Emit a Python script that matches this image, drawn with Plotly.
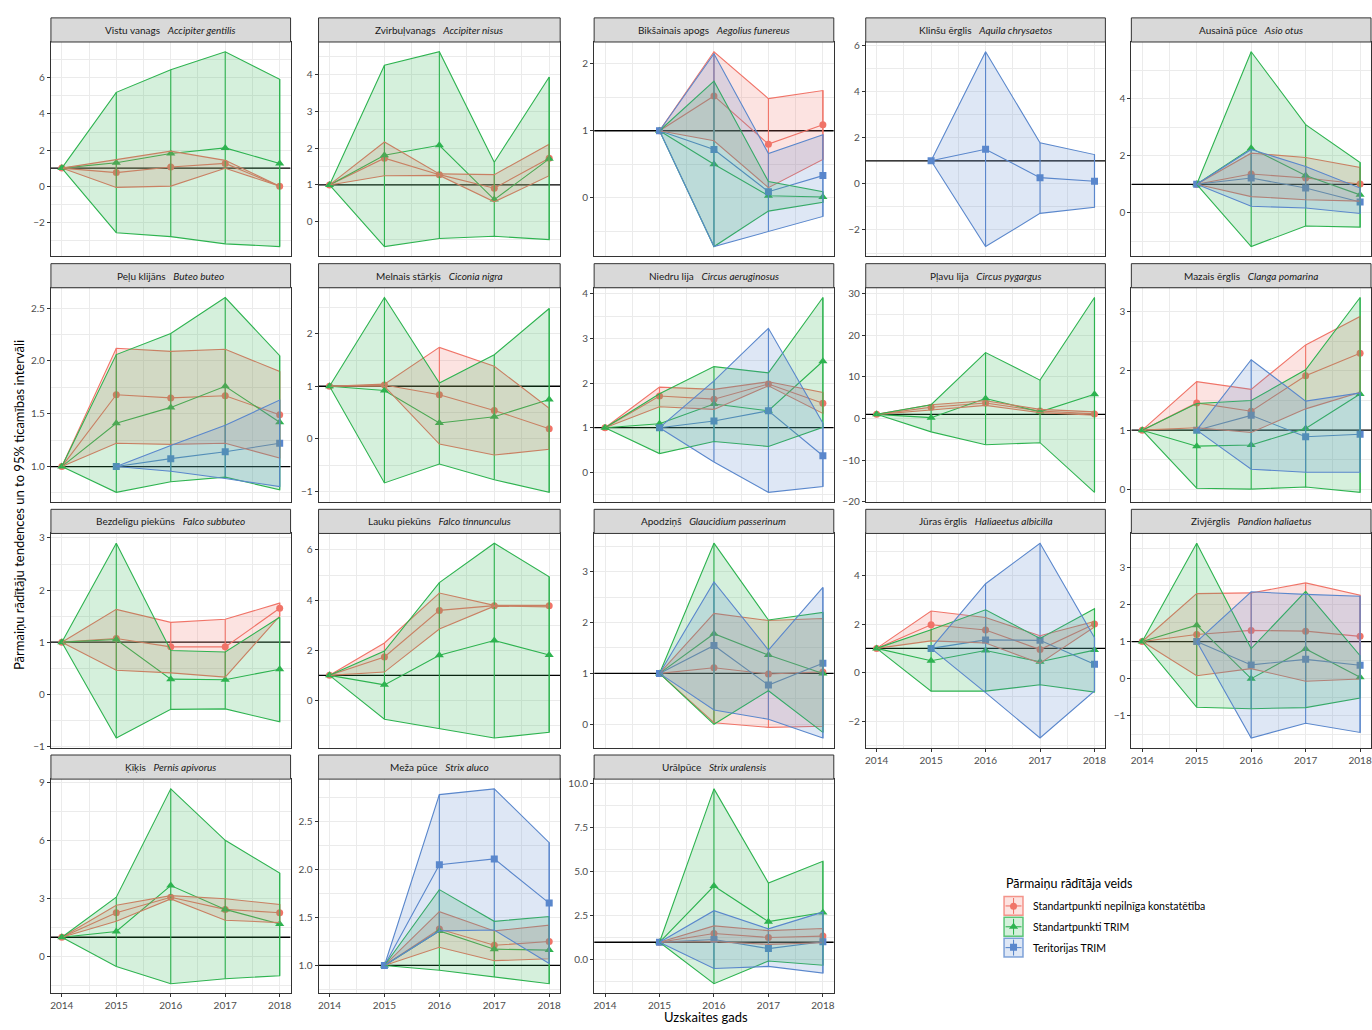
import plotly.graph_objects as go

# ---------------------------------------------------------------------------
# Data: change indices (2014 or 2015 = 1) with 95% confidence limits
# ---------------------------------------------------------------------------
YEARS = [2014, 2015, 2016, 2017, 2018]

SPECIES = [
    "Accipiter gentilis", "Accipiter nisus", "Aegolius funereus", "Aquila chrysaetos",
    "Asio otus", "Buteo buteo", "Ciconia nigra", "Circus aeruginosus", "Circus pygargus",
    "Clanga pomarina", "Falco subbuteo", "Falco tinnunculus", "Glaucidium passerinum",
    "Haliaeetus albicilla", "Pandion haliaetus", "Pernis apivorus", "Strix aluco",
    "Strix uralensis",
]
COMMON_NAMES = [
    "Vistu vanags", "Zvirbuļvanags", "Bikšainais apogs", "Klinšu ērglis", "Ausainā pūce",
    "Peļu klijāns", "Melnais stārķis", "Niedru lija", "Pļavu lija", "Mazais ērglis",
    "Bezdelīgu piekūns", "Lauku piekūns", "Apodziņš", "Jūras ērglis", "Zivjērglis",
    "Ķīķis", "Meža pūce", "Urālpūce",
]

SERIES_NAMES = [
    "Standartpunkti nepilnīga konstatētība",
    "Standartpunkti TRIM",
    "Teritorijas TRIM",
]

# Standartpunkti nepilnīga konstatētība
NK_EST = {
    "Accipiter gentilis": [1, 0.75, 1.06, 1.26, 0.0],
    "Accipiter nisus": [1, 1.73, 1.28, 0.91, 1.73],
    "Aegolius funereus": [None, 1, 1.52, 0.80, 1.09],
    "Asio otus": [None, 1, 1.36, 1.22, 1.01],
    "Buteo buteo": [1, 1.68, 1.65, 1.67, 1.49],
    "Ciconia nigra": [1, 1.025, 0.84, 0.54, 0.19],
    "Circus aeruginosus": [1, 1.71, 1.64, 1.98, 1.55],
    "Circus pygargus": [1, 2.7, 3.7, 1.8, 1.1],
    "Clanga pomarina": [1, 1.46, 1.32, 1.92, 2.30],
    "Falco subbuteo": [1, 1.07, 0.91, 0.91, 1.65],
    "Falco tinnunculus": [1, 1.73, 3.59, 3.78, 3.78],
    "Glaucidium passerinum": [None, 1, 1.11, 0.99, 1.03],
    "Haliaeetus albicilla": [1, 1.97, 1.76, 0.95, 2.0],
    "Pandion haliaetus": [1, 1.19, 1.30, 1.28, 1.14],
    "Pernis apivorus": [1, 2.27, 3.07, 2.44, 2.27],
    "Strix aluco": [None, 1, 1.38, 1.21, 1.25],
    "Strix uralensis": [None, 1, 1.50, 1.27, 1.35],
}
NK_LO = {
    "Accipiter gentilis": [1, -0.07, 0.0, 0.99, 0.0],
    "Accipiter nisus": [1, 1.25, 1.26, 0.54, 1.25],
    "Aegolius funereus": [None, 1, 0.85, 0.15, 0.57],
    "Asio otus": [None, 1, 0.57, 0.46, 0.41],
    "Buteo buteo": [1, 1.22, 1.21, 1.22, 1.08],
    "Ciconia nigra": [1, 1.0, -0.10, -0.31, -0.20],
    "Circus aeruginosus": [1, 1.47, 1.41, 1.94, 1.32],
    "Circus pygargus": [1, 2.05, 3.15, 1.4, 0.8],
    "Clanga pomarina": [1, 1.04, 0.96, 1.36, 1.64],
    "Falco subbuteo": [1, 0.46, 0.41, 0.33, 1.50],
    "Falco tinnunculus": [1, 1.13, 2.85, 3.76, 3.73],
    "Glaucidium passerinum": [None, 1, 0.03, -0.06, -0.04],
    "Haliaeetus albicilla": [1, 1.31, 1.22, 0.39, 1.88],
    "Pandion haliaetus": [1, 0.08, 0.27, -0.07, -0.01],
    "Pernis apivorus": [1, 1.83, 2.98, 1.88, 1.76],
    "Strix aluco": [None, 1, 1.19, 1.05, 1.07],
    "Strix uralensis": [None, 1, 1.03, 0.88, 0.97],
}
NK_HI = {
    "Accipiter gentilis": [1, 1.48, 1.94, 1.43, 0.0],
    "Accipiter nisus": [1, 2.17, 1.30, 1.28, 2.11],
    "Aegolius funereus": [None, 1, 2.18, 1.48, 1.60],
    "Asio otus": [None, 1, 2.09, 1.94, 1.59],
    "Buteo buteo": [1, 2.12, 2.09, 2.11, 1.90],
    "Ciconia nigra": [1, 1.04, 1.74, 1.38, 0.58],
    "Circus aeruginosus": [1, 1.91, 1.86, 2.03, 1.79],
    "Circus pygargus": [1, 3.3, 4.25, 2.2, 1.6],
    "Clanga pomarina": [1, 1.82, 1.69, 2.44, 2.92],
    "Falco subbuteo": [1, 1.63, 1.38, 1.44, 1.75],
    "Falco tinnunculus": [1, 2.29, 4.28, 3.79, 3.79],
    "Glaucidium passerinum": [None, 1, 2.18, 2.04, 2.08],
    "Haliaeetus albicilla": [1, 2.54, 2.27, 1.52, 2.11],
    "Pandion haliaetus": [1, 2.29, 2.31, 2.58, 2.25],
    "Pernis apivorus": [1, 2.66, 3.15, 2.99, 2.70],
    "Strix aluco": [None, 1, 1.56, 1.36, 1.42],
    "Strix uralensis": [None, 1, 1.93, 1.66, 1.78],
}

# Standartpunkti TRIM
ST_EST = {
    "Accipiter gentilis": [1, 1.30, 1.81, 2.12, 1.25],
    "Accipiter nisus": [1, 1.81, 2.08, 0.60, 1.71],
    "Aegolius funereus": [None, 1, 0.50, 0.03, 0.01],
    "Asio otus": [None, 1, 2.26, 1.31, 0.63],
    "Buteo buteo": [1, 1.41, 1.56, 1.76, 1.42],
    "Ciconia nigra": [1, 0.92, 0.30, 0.42, 0.75],
    "Circus aeruginosus": [1, 1.09, 1.53, 1.38, 2.49],
    "Circus pygargus": [1, 0.2, 4.8, 1.6, 5.8],
    "Clanga pomarina": [1, 0.73, 0.75, 1.03, 1.61],
    "Falco subbuteo": [1, 1.05, 0.29, 0.28, 0.48],
    "Falco tinnunculus": [1, 0.62, 1.80, 2.39, 1.81],
    "Glaucidium passerinum": [None, 1, 1.78, 1.36, 1.0],
    "Haliaeetus albicilla": [1, 0.49, 0.91, 0.45, 0.93],
    "Pandion haliaetus": [1, 1.44, 0.0, 0.80, 0.04],
    "Pernis apivorus": [1, 1.30, 3.67, 2.44, 1.69],
    "Strix aluco": [None, 1, 1.36, 1.17, 1.16],
    "Strix uralensis": [None, 1, 4.19, 2.17, 2.69],
}
ST_LO = {
    "Accipiter gentilis": [1, -2.58, -2.80, -3.20, -3.35],
    "Accipiter nisus": [1, -0.68, -0.46, -0.40, -0.49],
    "Aegolius funereus": [None, 1, -0.73, -0.20, -0.07],
    "Asio otus": [None, 1, -1.18, -0.46, -0.50],
    "Buteo buteo": [1, 0.756, 0.856, 0.90, 0.78],
    "Ciconia nigra": [1, -0.84, -0.48, -0.78, -1.02],
    "Circus aeruginosus": [1, 0.42, 0.69, 0.58, 1.01],
    "Circus pygargus": [1, -3.2, -6.3, -5.8, -17.7],
    "Clanga pomarina": [1, 0.02, 0.005, 0.04, -0.05],
    "Falco subbuteo": [1, -0.84, -0.29, -0.28, -0.53],
    "Falco tinnunculus": [1, -0.75, -1.13, -1.50, -1.27],
    "Glaucidium passerinum": [None, 1, 0.0, 0.66, -0.16],
    "Haliaeetus albicilla": [1, -0.76, -0.76, -0.50, -0.80],
    "Pandion haliaetus": [1, -0.77, -0.81, -0.78, -0.52],
    "Pernis apivorus": [1, -0.51, -1.40, -1.14, -0.99],
    "Strix aluco": [None, 1, 0.95, 0.88, 0.81],
    "Strix uralensis": [None, 1, -1.35, -0.06, -0.30],
}
ST_HI = {
    "Accipiter gentilis": [1, 5.20, 6.45, 7.45, 5.92],
    "Accipiter nisus": [1, 4.26, 4.63, 1.62, 3.94],
    "Aegolius funereus": [None, 1, 1.74, 0.24, 0.09],
    "Asio otus": [None, 1, 5.64, 3.09, 1.76],
    "Buteo buteo": [1, 2.06, 2.26, 2.60, 2.05],
    "Ciconia nigra": [1, 2.69, 1.06, 1.60, 2.48],
    "Circus aeruginosus": [1, 1.76, 2.37, 2.23, 3.92],
    "Circus pygargus": [1, 3.3, 15.8, 9.2, 29.0],
    "Clanga pomarina": [1, 1.45, 1.50, 2.02, 3.24],
    "Falco subbuteo": [1, 2.90, 0.84, 0.81, 1.48],
    "Falco tinnunculus": [1, 1.97, 4.70, 6.27, 4.93],
    "Glaucidium passerinum": [None, 1, 3.56, 2.05, 2.20],
    "Haliaeetus albicilla": [1, 1.77, 2.59, 1.41, 2.63],
    "Pandion haliaetus": [1, 3.65, 0.81, 2.35, 0.62],
    "Pernis apivorus": [1, 3.07, 8.67, 6.01, 4.32],
    "Strix aluco": [None, 1, 1.79, 1.46, 1.51],
    "Strix uralensis": [None, 1, 9.70, 4.36, 5.59],
}

# Teritorijas TRIM
TT_EST = {
    "Aegolius funereus": [None, 1, 0.72, 0.09, 0.33],
    "Aquila chrysaetos": [None, 1, 1.50, 0.27, 0.11],
    "Asio otus": [None, 1, 1.22, 0.87, 0.38],
    "Buteo buteo": [None, 1, 1.075, 1.14, 1.22],
    "Circus aeruginosus": [None, 1, 1.15, 1.38, 0.37],
    "Clanga pomarina": [None, 1, 1.25, 0.89, 0.93],
    "Glaucidium passerinum": [None, 1, 1.55, 0.77, 1.20],
    "Haliaeetus albicilla": [None, 1, 1.35, 1.33, 0.35],
    "Pandion haliaetus": [None, 1, 0.37, 0.52, 0.36],
    "Strix aluco": [None, 1, 2.05, 2.11, 1.65],
    "Strix uralensis": [None, 1, 1.16, 0.64, 1.03],
}
TT_LO = {
    "Aegolius funereus": [None, 1, -0.73, -0.51, -0.28],
    "Aquila chrysaetos": [None, 1, -2.72, -1.28, -1.02],
    "Asio otus": [None, 1, 0.23, 0.17, -0.02],
    "Buteo buteo": [None, 1, 0.956, 0.887, 0.81],
    "Circus aeruginosus": [None, 1, 0.23, -0.45, -0.32],
    "Clanga pomarina": [None, 1, 0.34, 0.29, 0.29],
    "Glaucidium passerinum": [None, 1, 0.28, 0.10, -0.27],
    "Haliaeetus albicilla": [None, 1, -0.82, -2.69, -0.75],
    "Pandion haliaetus": [None, 1, -1.60, -1.20, -1.45],
    "Strix aluco": [None, 1, 1.36, 1.37, 1.02],
    "Strix uralensis": [None, 1, -0.49, -0.37, -0.75],
}
TT_HI = {
    "Aegolius funereus": [None, 1, 2.15, 0.66, 0.94],
    "Aquila chrysaetos": [None, 1, 5.73, 1.78, 1.27],
    "Asio otus": [None, 1, 2.22, 1.62, 0.87],
    "Buteo buteo": [None, 1, 1.20, 1.39, 1.63],
    "Circus aeruginosus": [None, 1, 2.05, 3.23, 1.10],
    "Clanga pomarina": [None, 1, 2.19, 1.49, 1.63],
    "Glaucidium passerinum": [None, 1, 2.80, 1.46, 2.69],
    "Haliaeetus albicilla": [None, 1, 3.66, 5.33, 1.44],
    "Pandion haliaetus": [None, 1, 2.34, 2.27, 2.22],
    "Strix aluco": [None, 1, 2.78, 2.84, 2.28],
    "Strix uralensis": [None, 1, 2.79, 1.76, 2.71],
}

# y-axis breaks of each facet
Y_TICKS = {
    "Accipiter gentilis": [-2, 0, 2, 4, 6],
    "Accipiter nisus": [0, 1, 2, 3, 4],
    "Aegolius funereus": [0, 1, 2],
    "Aquila chrysaetos": [-2, 0, 2, 4, 6],
    "Asio otus": [0, 2, 4],
    "Buteo buteo": [1.0, 1.5, 2.0, 2.5],
    "Ciconia nigra": [-1, 0, 1, 2],
    "Circus aeruginosus": [0, 1, 2, 3, 4],
    "Circus pygargus": [-20, -10, 0, 10, 20, 30],
    "Clanga pomarina": [0, 1, 2, 3],
    "Falco subbuteo": [-1, 0, 1, 2, 3],
    "Falco tinnunculus": [0, 2, 4, 6],
    "Glaucidium passerinum": [0, 1, 2, 3],
    "Haliaeetus albicilla": [-2, 0, 2, 4],
    "Pandion haliaetus": [-1, 0, 1, 2, 3],
    "Pernis apivorus": [0, 3, 6, 9],
    "Strix aluco": [1.0, 1.5, 2.0, 2.5],
    "Strix uralensis": [0.0, 2.5, 5.0, 7.5, 10.0],
}

REFERENCE_LEVEL = 1.0

SERIES = [
    (SERIES_NAMES[0], NK_EST, NK_LO, NK_HI, "#F07468", "circle", 7),
    (SERIES_NAMES[1], ST_EST, ST_LO, ST_HI, "#2EB350", "triangle-up", 8),
    (SERIES_NAMES[2], TT_EST, TT_LO, TT_HI, "#5A87CC", "square", 7),
]

# ---------------------------------------------------------------------------
# Page geometry (pixels)
# ---------------------------------------------------------------------------
W, H = 1372, 1030
COLS_X = [(50, 290), (318, 560), (594, 834), (866, 1106), (1132, 1372)]
ROW_TOP = [15, 262.7, 510.3, 757.9]
STRIP_H = 24.3
PANEL_H = 216.0
NCOL = 5

FONT = "Lato, 'Open Sans', sans-serif"
GRID = "#EBEBEB"
DARK = "#333333"


def rgba(hex_col, a):
    h = hex_col.lstrip("#")
    r, g, b = int(h[0:2], 16), int(h[2:4], 16), int(h[4:6], 16)
    return f"rgba({r},{g},{b},{a})"


def fmt_tick(v, decimals):
    s = f"{v:.1f}" if decimals else f"{int(round(v))}"
    return s.replace("-", "\u2212")


def minor_between(major, lo, hi):
    step = major[1] - major[0]
    out, v = [], major[0] - step / 2
    while v <= hi:
        if v >= lo:
            out.append(v)
        v += step
    return out


fig = go.Figure()
layout = {}
shapes = []
annotations = []

x_pad = 0.05 * (YEARS[-1] - YEARS[0])
x_range = [YEARS[0] - x_pad, YEARS[-1] + x_pad]
x_minor = [y + 0.5 for y in YEARS[:-1]]

# facets that carry x tick labels (last facet of each column)
n = len(SPECIES)
bottom_of_col = {}
for i in range(n):
    bottom_of_col[i % NCOL] = i
bottom_panels = set(bottom_of_col.values())

for i, sp in enumerate(SPECIES):
    r, c = divmod(i, NCOL)
    x0, x1 = COLS_X[c]
    top = ROW_TOP[r] + STRIP_H
    bot = top + PANEL_H
    sfx = "" if i == 0 else str(i + 1)
    xa, ya = "x" + sfx, "y" + sfx

    # y range: data extent (incl. reference line) with 5 % expansion
    vals = [REFERENCE_LEVEL]
    for _, est, lo, hi, *_ in SERIES:
        if sp in est:
            for arr in (est[sp], lo[sp], hi[sp]):
                vals += [v for v in arr if v is not None]
    ymin, ymax = min(vals), max(vals)
    pad = 0.05 * (ymax - ymin)
    y_range = [ymin - pad, ymax + pad]

    ticks = Y_TICKS[sp]
    decimals = any(abs(t - round(t)) > 1e-9 for t in ticks)
    is_bottom = i in bottom_panels

    layout["xaxis" + sfx] = dict(
        domain=[x0 / W, x1 / W], anchor=ya, range=x_range,
        tickvals=YEARS, ticktext=[str(y) for y in YEARS],
        showticklabels=is_bottom, ticks="outside" if is_bottom else "",
        ticklabeloverflow="allow",
        ticklen=3, tickcolor=DARK, tickwidth=1,
        tickfont=dict(family=FONT, size=10, color="#4D4D4D"),
        showgrid=True, gridcolor=GRID, gridwidth=1.1,
        minor=dict(tickvals=x_minor, showgrid=True, gridcolor=GRID, gridwidth=0.7),
        showline=True, mirror=True, linecolor=DARK, linewidth=1,
        zeroline=False, fixedrange=True,
    )
    layout["yaxis" + sfx] = dict(
        domain=[1 - bot / H, 1 - top / H], anchor=xa, range=y_range,
        tickvals=ticks, ticktext=[fmt_tick(t, decimals) for t in ticks],
        ticks="outside", ticklen=3, tickcolor=DARK, tickwidth=1,
        tickfont=dict(family=FONT, size=10, color="#4D4D4D"),
        showgrid=True, gridcolor=GRID, gridwidth=1.1,
        minor=dict(tickvals=minor_between(ticks, y_range[0], y_range[1]),
                   showgrid=True, gridcolor=GRID, gridwidth=0.7),
        showline=True, mirror=True, linecolor=DARK, linewidth=1,
        zeroline=False, fixedrange=True,
    )

    # reference line at 1 across the whole panel
    fig.add_trace(go.Scatter(
        x=x_range, y=[REFERENCE_LEVEL, REFERENCE_LEVEL], xaxis=xa, yaxis=ya, mode="lines",
        line=dict(color="black", width=1.3), showlegend=False, hoverinfo="skip",
    ))

    # strip
    shapes.append(dict(type="rect", xref="paper", yref="paper",
                       x0=x0 / W, x1=x1 / W, y0=1 - top / H, y1=1 - ROW_TOP[r] / H,
                       fillcolor="#D9D9D9", line=dict(color=DARK, width=1), layer="above"))
    annotations.append(dict(
        xref="paper", yref="paper", x=(x0 + x1) / 2 / W, y=1 - (ROW_TOP[r] + STRIP_H / 2) / H,
        text=f"{COMMON_NAMES[i]}\u00a0\u00a0\u00a0<i>{sp}</i>", showarrow=False,
        xanchor="center", yanchor="middle",
        font=dict(family=FONT, size=10, color="#1A1A1A"),
    ))

    # estimates with error bars
    for name, est, lo, hi, col, sym, msize in SERIES:
        if sp not in est:
            continue
        idx = [k for k, v in enumerate(est[sp]) if v is not None]
        xs = [YEARS[k] for k in idx]
        e = [est[sp][k] for k in idx]
        l = [lo[sp][k] for k in idx]
        h = [hi[sp][k] for k in idx]
        fig.add_trace(go.Scatter(
            x=xs, y=e, xaxis=xa, yaxis=ya, mode="lines+markers", name=name,
            line=dict(color=col, width=1.1),
            marker=dict(symbol=sym, size=msize, color=col, line=dict(width=0)),
            error_y=dict(type="data", symmetric=False,
                         array=[hv - ev for hv, ev in zip(h, e)],
                         arrayminus=[ev - lv for ev, lv in zip(e, l)],
                         width=0, thickness=1.1, color=col),
            showlegend=False, hoverinfo="skip",
        ))

    # confidence ribbons
    for name, est, lo, hi, col, sym, msize in SERIES:
        if sp not in est:
            continue
        idx = [k for k, v in enumerate(est[sp]) if v is not None]
        xs = [YEARS[k] for k in idx]
        l = [lo[sp][k] for k in idx]
        h = [hi[sp][k] for k in idx]
        fig.add_trace(go.Scatter(
            x=xs + xs[::-1], y=h + l[::-1], xaxis=xa, yaxis=ya, mode="lines",
            fill="toself", fillcolor=rgba(col, 0.2),
            line=dict(color=col, width=1.1), name=name,
            showlegend=False, hoverinfo="skip",
        ))

# ---------------------------------------------------------------------------
# Axis titles
# ---------------------------------------------------------------------------
annotations.append(dict(
    xref="paper", yref="paper", x=18 / W, y=1 - 506 / H,
    text="Pārmaiņu rādītāju tendences un to 95% ticamības intervāli",
    textangle=-90, showarrow=False, xanchor="center", yanchor="middle",
    font=dict(family=FONT, size=13, color="black"),
))
annotations.append(dict(
    xref="paper", yref="paper", x=706 / W, y=1 - 1022 / H,
    text="Uzskaites gads", showarrow=False, xanchor="center", yanchor="middle",
    font=dict(family=FONT, size=13, color="black"),
))

# ---------------------------------------------------------------------------
# Legend (keys: ribbon box + error bar + line + point)
# ---------------------------------------------------------------------------
LEG_X0, LEG_Y0, KEY = 1004, 900, 20
annotations.append(dict(
    xref="paper", yref="paper", x=LEG_X0 / W, y=1 - 887 / H,
    text="Pārmaiņu rādītāja veids", showarrow=False, xanchor="left", yanchor="middle",
    font=dict(family=FONT, size=12.5, color="black"),
))
leg_ax = "19"
layout["xaxis" + leg_ax] = dict(domain=[LEG_X0 / W, (LEG_X0 + KEY) / W], range=[0, 1],
                                visible=False, anchor="y" + leg_ax, fixedrange=True)
layout["yaxis" + leg_ax] = dict(domain=[1 - (LEG_Y0 + 3 * KEY + 2) / H, 1 - LEG_Y0 / H],
                                range=[3, 0], visible=False, anchor="x" + leg_ax,
                                fixedrange=True)
for k, (name, est, lo, hi, col, sym, msize) in enumerate(SERIES):
    ky0 = LEG_Y0 + k * (KEY + 1)
    cy = ky0 + KEY / 2
    shapes.append(dict(type="rect", xref="paper", yref="paper",
                       x0=(LEG_X0 + 0.5) / W, x1=(LEG_X0 + KEY - 0.5) / W,
                       y0=1 - (ky0 + KEY - 0.5) / H, y1=1 - (ky0 + 0.5) / H,
                       fillcolor=rgba(col, 0.2), line=dict(color=rgba(col, 0.75), width=1.5),
                       layer="below"))
    shapes.append(dict(type="line", xref="paper", yref="paper",
                       x0=(LEG_X0 + 2) / W, x1=(LEG_X0 + KEY - 2) / W,
                       y0=1 - cy / H, y1=1 - cy / H, line=dict(color=col, width=1.1),
                       layer="below"))
    shapes.append(dict(type="line", xref="paper", yref="paper",
                       x0=(LEG_X0 + KEY / 2) / W, x1=(LEG_X0 + KEY / 2) / W,
                       y0=1 - (ky0 + 2) / H, y1=1 - (ky0 + KEY - 2) / H,
                       line=dict(color=col, width=1.1), layer="below"))
    fig.add_trace(go.Scatter(
        x=[0.5], y=[k + 0.5], xaxis="x" + leg_ax, yaxis="y" + leg_ax, mode="markers",
        marker=dict(symbol=sym, size=msize, color=col), showlegend=False, hoverinfo="skip",
    ))
    annotations.append(dict(
        xref="paper", yref="paper", x=(LEG_X0 + KEY + 8) / W, y=1 - cy / H,
        text=name, showarrow=False, xanchor="left", yanchor="middle",
        font=dict(family=FONT, size=10.5, color="black"),
    ))

fig.update_layout(
    width=W, height=H, margin=dict(l=0, r=0, t=0, b=0),
    paper_bgcolor="white", plot_bgcolor="white",
    showlegend=False, shapes=shapes, annotations=annotations,
    **layout,
)

fig.write_html("out.html")
